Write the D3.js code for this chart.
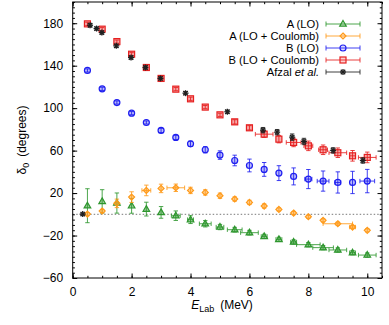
<!DOCTYPE html>
<html><head><meta charset="utf-8">
<script src="https://cdn.jsdelivr.net/npm/d3@7"></script>
<style>body{margin:0;background:#fff}svg{display:block;font-family:"Liberation Sans",Arial,sans-serif}</style>
</head><body><svg id="c" width="389" height="325"></svg>
<script>
const energies = [0.5,1,1.5,2,2.5,3,3.5,4,4.5,5,5.5,6,6.5,7,7.5,8,8.5,9,9.5,10];
const aLO      = [8.1,12.2,10.6,8,4.9,1.8,-1.3,-5,-8.9,-12,-14.5,-17.3,-20.8,-23.6,-26.1,-28.6,-31.4,-33.6,-36.2,-38.4];
const aLOerr   = [16,11,9.5,7,6.5,5.5,4.5,3.7,3,2.5,2.2,2.2,2,2,2,2,2,2,2,2];
const aLOxerr  = [0,0,0,0,0,0,0.15,0.1,0.2,0.13,0.25,0.3,0.1,0.1,0.1,0.4,0.35,0.3,0.1,0.3];
const aC       = [0.2,3.1,10.3,16.2,22.5,24.4,25,22.5,20.6,17.5,14.4,11.2,7.8,4.6,1.2,-2.3,-5.7,-8.9,-12,-15.1];
const aCerr    = [1.5,1.5,4,5,5,4,3.5,3,2.5,2.5,2,2,2,1.5,1.5,1.5,1.5,1.5,1.5,1.5];
const aCxerr   = [0,0,0,0,0.15,0,0.3,0,0,0,0,0,0,0,0,0,0,0.5,0.1,0];
const bLO      = [135.5,118.2,105.3,95.3,86.5,79,72.4,66.4,60.8,55.8,50.7,46,42.3,38.8,35.7,33.2,31.3,30,30,31.3];
const bLOerr   = [1.5,1.5,1.5,1.5,1.5,2,2,2.5,3,4,5,6,6.5,7,8,9,9.5,10,10.5,11];
const bLOxerr  = [0,0,0,0,0,0,0,0,0,0,0,0,0,0,0,0.12,0.2,0.1,0,0.25];
const bC       = [179.4,174.4,162.7,150.8,138.3,128,117.9,108.8,101,93.7,87.1,81.5,75.5,70.8,67.7,64.5,60.8,58,55.1,53.6];
const bCerr    = [1.5,1.5,1.5,1.5,1.5,1.5,1.5,1.5,1.5,1.5,2,2,3,3.5,4,4.5,4.5,4.5,5,5];
const bCxerr   = [0,0,0,0,0,0,0,0,0,0,0,0,0.3,0,0.25,0.15,0.15,0.3,0.1,0.3];
const afzalE   = [0.34,0.59,0.81,0.99,1.48,1.98,2.47,2.98,3.83,5.25,6.46,6.94,7.45,7.85,8.84,9.85];
const afzal    = [0.2,178.1,175,171.2,158.7,147.7,138.3,128,114.1,96.6,79.3,77.4,72.7,68.6,60.2,50.7];
const afzalErr = [1,1.5,1.5,1.5,1.5,1.5,1.5,1.5,1.5,1.5,2.5,2.5,3,3,2.5,2.5];
const afzalXerr= [0,0,0,0,0,0,0,0,0,0,0,0,0,0,0,0];
const xMajor = [0,2,4,6,8,10];
const yMajor = [-60,-20,20,60,100,140,180];
const seriesNames = ["A (LO)","A (LO + Coulomb)","B (LO)","B (LO + Coulomb)","Afzal et al."];
const seriesColors = ["#2e962e","#ff9a1a","#1e1ef0","#e62020","#202020"];

const svg = d3.select("#c");
const L=72.7,R=382,T=2,B=278;
const x = d3.scaleLinear().domain([0,10.5]).range([L,R]);
const y = d3.scaleLinear().domain([-60,200]).range([B,T]);

const series = [
  {name:seriesNames[0],color:seriesColors[0],sym:"tri",xs:energies,ys:aLO,e:aLOerr,xe:aLOxerr},
  {name:seriesNames[1],color:seriesColors[1],sym:"dia",xs:energies,ys:aC,e:aCerr,xe:aCxerr},
  {name:seriesNames[2],color:seriesColors[2],sym:"circ",xs:energies,ys:bLO,e:bLOerr,xe:bLOxerr},
  {name:seriesNames[3],color:seriesColors[3],sym:"sq",xs:energies,ys:bC,e:bCerr,xe:bCxerr},
  {name:seriesNames[4],color:seriesColors[4],sym:"star",xs:afzalE,ys:afzal,e:afzalErr,xe:afzalXerr}
];

svg.append("line").attr("x1",L).attr("x2",R).attr("y1",y(0)).attr("y2",y(0))
  .attr("stroke","#555").attr("stroke-width",0.8).attr("stroke-dasharray","1.5,2");

function drawSym(g,sym,cx,cy,color,fo){
  const s=3;
  if(sym==="tri") g.append("path").attr("d",`M${cx},${cy-s-0.5}L${cx+s+0.3},${cy+s-0.8}L${cx-s-0.3},${cy+s-0.8}Z`).attr("fill",color).attr("fill-opacity",fo*1.6).attr("stroke",color).attr("stroke-width",1.2);
  else if(sym==="dia") g.append("path").attr("d",`M${cx},${cy-s}L${cx+s},${cy}L${cx},${cy+s}L${cx-s},${cy}Z`).attr("fill",color).attr("fill-opacity",fo*1.6).attr("stroke",color).attr("stroke-width",1.2);
  else if(sym==="circ") g.append("circle").attr("cx",cx).attr("cy",cy).attr("r",s).attr("fill",color).attr("fill-opacity",fo).attr("stroke",color).attr("stroke-width",1.2);
  else if(sym==="sq") g.append("rect").attr("x",cx-s).attr("y",cy-s).attr("width",2*s).attr("height",2*s).attr("fill",color).attr("fill-opacity",fo*1.3).attr("stroke",color).attr("stroke-width",1.2);
  else if(sym==="star"){
    const p=g.append("g").attr("stroke",color).attr("stroke-width",1.3);
    p.append("line").attr("x1",cx-s).attr("x2",cx+s).attr("y1",cy).attr("y2",cy);
    p.append("line").attr("x1",cx).attr("x2",cx).attr("y1",cy-s).attr("y2",cy+s);
    p.append("line").attr("x1",cx-2.2).attr("x2",cx+2.2).attr("y1",cy-2.2).attr("y2",cy+2.2);
    p.append("line").attr("x1",cx-2.2).attr("x2",cx+2.2).attr("y1",cy+2.2).attr("y2",cy-2.2);
  }
}
function errBar(g,cx,cy,x0,x1,y0,y1,color,cap){
  const gg=g.append("g").attr("stroke",color).attr("stroke-width",1).attr("stroke-opacity",0.85);
  if(y1-y0>0.5){
    gg.append("line").attr("x1",cx).attr("x2",cx).attr("y1",y0).attr("y2",y1);
    gg.append("line").attr("x1",cx-cap).attr("x2",cx+cap).attr("y1",y0).attr("y2",y0);
    gg.append("line").attr("x1",cx-cap).attr("x2",cx+cap).attr("y1",y1).attr("y2",y1);
  }
  if(x1-x0>0.5){
    gg.append("line").attr("x1",x0).attr("x2",x1).attr("y1",cy).attr("y2",cy);
    gg.append("line").attr("x1",x0).attr("x2",x0).attr("y1",cy-cap).attr("y2",cy+cap);
    gg.append("line").attr("x1",x1).attr("x2",x1).attr("y1",cy-cap).attr("y2",cy+cap);
  }
}
const plot = svg.append("g");
series.forEach(s=>{
  const g=plot.append("g");
  s.xs.forEach((xv,i)=>{
    const cx=x(xv), cy=y(s.ys[i]);
    errBar(g,cx,cy,x(xv-s.xe[i]),x(xv+s.xe[i]),y(s.ys[i]+s.e[i]),y(s.ys[i]-s.e[i]),s.color,2.2);
    drawSym(g,s.sym,cx,cy,s.color,0.3);
  });
});

function styleAxis(g){g.select(".domain").remove();g.selectAll("line").attr("stroke","#000").attr("stroke-width",1);g.selectAll("text").attr("font-size",12).attr("fill","#000").attr("font-family","Liberation Sans, Arial, sans-serif");}
const xMinor=d3.range(0,10.51,0.5), yMinor=d3.range(-60,200.1,5);
svg.append("g").attr("transform",`translate(0,${B})`).call(d3.axisBottom(x).tickValues(xMinor).tickSize(-2.2).tickFormat("")).call(styleAxis);
svg.append("g").attr("transform",`translate(0,${B})`).call(d3.axisBottom(x).tickValues(xMajor).tickSize(-4.5).tickPadding(9).tickFormat(d3.format("d"))).call(styleAxis);
svg.append("g").attr("transform",`translate(0,${T})`).call(d3.axisTop(x).tickValues(xMinor).tickSize(-2.2).tickFormat("")).call(styleAxis);
svg.append("g").attr("transform",`translate(0,${T})`).call(d3.axisTop(x).tickValues(xMajor).tickSize(-4.5).tickFormat("")).call(styleAxis);
svg.append("g").attr("transform",`translate(${L},0)`).call(d3.axisLeft(y).tickValues(yMinor).tickSize(-2.2).tickFormat("")).call(styleAxis);
svg.append("g").attr("transform",`translate(${L},0)`).call(d3.axisLeft(y).tickValues(yMajor).tickSize(-4.5).tickPadding(9.5).tickFormat(d3.format("d"))).call(styleAxis);
svg.append("g").attr("transform",`translate(${R},0)`).call(d3.axisRight(y).tickValues(yMinor).tickSize(-2.2).tickFormat("")).call(styleAxis);
svg.append("g").attr("transform",`translate(${R},0)`).call(d3.axisRight(y).tickValues(yMajor).tickSize(-4.5).tickFormat("")).call(styleAxis);
svg.append("rect").attr("x",L).attr("y",T).attr("width",R-L).attr("height",B-T).attr("fill","none").attr("stroke","#000").attr("stroke-width",1);

const legY=[24,36,48,60,72];
series.forEach((s,i)=>{
  const ly=legY[i];
  const t=svg.append("text").attr("x",319).attr("y",ly+4).attr("text-anchor","end").attr("font-size",11.2);
  if(i===4){t.append("tspan").text("Afzal ");t.append("tspan").attr("font-style","italic").text("et al.");}
  else t.text(s.name);
  const g=svg.append("g");
  errBar(g,343,ly,326,360,ly,ly,s.color,2.5);
  drawSym(g,s.sym,343,ly,s.color,0.15);
});

const xt=svg.append("text").attr("x",222).attr("y",309).attr("text-anchor","middle").attr("font-size",12);
xt.append("tspan").attr("font-style","italic").text("E");
xt.append("tspan").attr("font-size",9).attr("dy",3).text("Lab");
xt.append("tspan").attr("dy",-3).text("\u2002(MeV)");
const yt=svg.append("text").attr("transform","translate(26,140) rotate(-90)").attr("text-anchor","middle").attr("font-size",12);
yt.append("tspan").text("\u03b4");
yt.append("tspan").attr("font-size",9).attr("dy",3).text("0");
yt.append("tspan").attr("dy",-3).text("\u2002(degrees)");
</script></body></html>
